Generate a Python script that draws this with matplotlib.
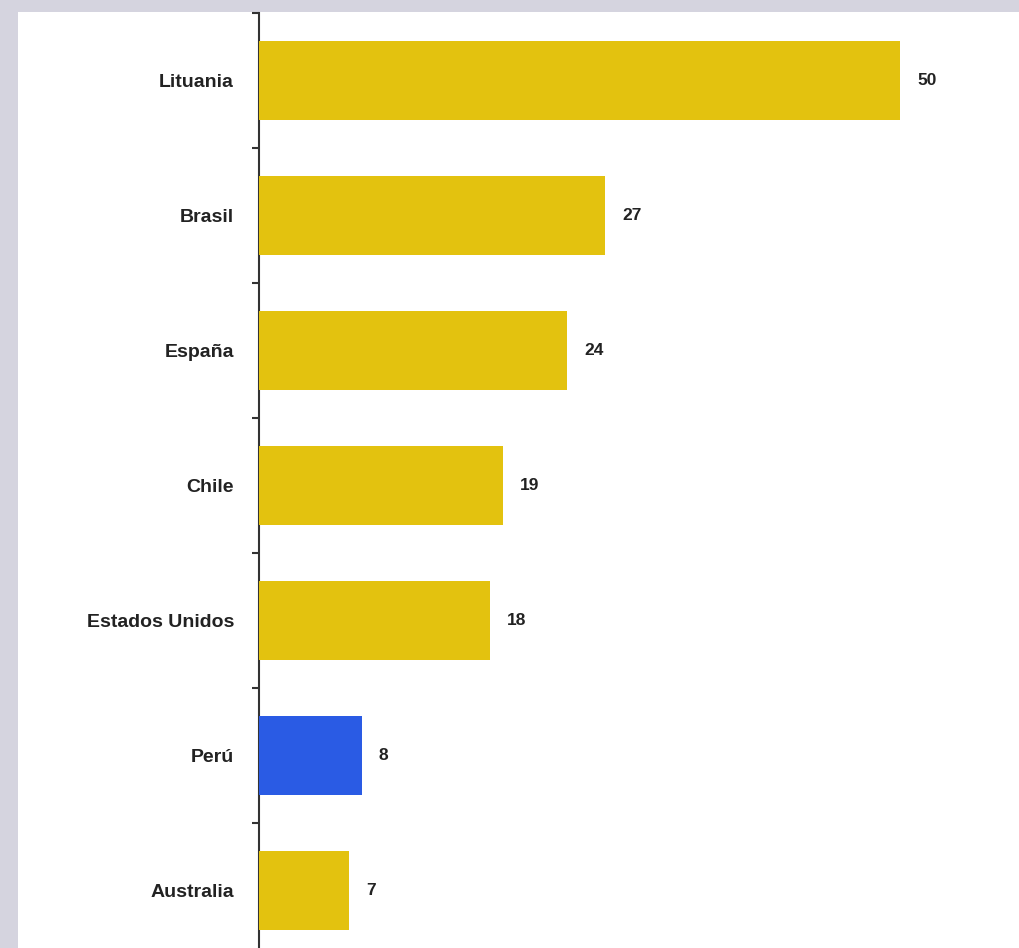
import matplotlib.pyplot as plt
from matplotlib.patches import Rectangle

# Datos
paises = ["Lituania", "Brasil", "España", "Chile", "Estados Unidos", "Perú", "Australia"]
valores = [50, 27, 24, 19, 18, 8, 7]
destacado = "Perú"

AMARILLO = "#E3C20F"
AZUL = "#2A5BE4"
FONDO = "#D5D4DF"

fig = plt.figure(figsize=(10.2, 9.48), dpi=100)
fig.patch.set_facecolor(FONDO)

# Panel blanco del gráfico (debajo de los ejes)
fig.patches.append(Rectangle((18 / 1020, 0), 1, (948 - 12) / 948,
                             transform=fig.transFigure, facecolor="white",
                             edgecolor="none", zorder=-10))

ax = fig.add_axes([259 / 1020, 0, 1 - 259 / 1020, (948 - 13) / 948])
ax.set_facecolor("none")
ax.set_zorder(5)

colores = [AZUL if p == destacado else AMARILLO for p in paises]
pos = list(range(len(paises)))
bars = ax.barh(pos, valores, height=0.58, color=colores, zorder=3)

for bar, val in zip(bars, valores):
    ax.text(bar.get_width() + 1.35, bar.get_y() + bar.get_height() / 2,
            f"{val}", ha="left", va="center", fontsize=12.5,
            fontweight="bold", color="#222222", family="Liberation Sans")

ax.set_xlim(0, (1020 - 259) / 12.82)
ax.set_ylim(6.5 - 10 / 135, -0.5)

# Etiquetas de categoría sin marcas; marcas en los límites entre barras
ax.set_yticks(pos)
ax.set_yticklabels(paises, fontsize=14, fontweight="bold", color="#222222",
                   family="Liberation Sans")
ax.tick_params(axis="y", which="major", length=0, pad=18)
ax.set_yticks([p - 0.5 for p in pos], minor=True)
ax.tick_params(axis="y", which="minor", length=5, width=1.5, color="#333333")

ax.set_xticks([])
for s in ["top", "right", "bottom"]:
    ax.spines[s].set_visible(False)
ax.spines["left"].set_color("#333333")
ax.spines["left"].set_linewidth(1.5)

plt.savefig("out.png", dpi=100, facecolor=fig.get_facecolor())
